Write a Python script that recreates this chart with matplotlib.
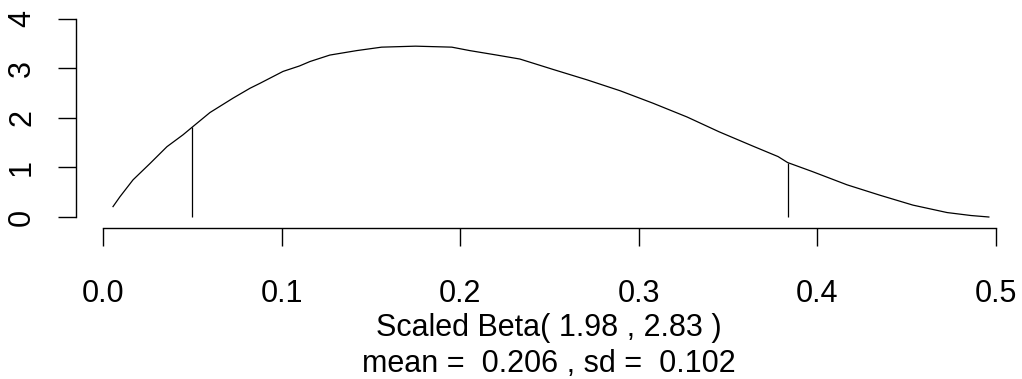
import matplotlib
matplotlib.use("Agg")
import matplotlib.pyplot as plt

plt.rcParams['font.family'] = ['Liberation Sans', 'DejaVu Sans']

# density curve of the scaled beta prior, read point by point
dens_x = [0.0056, 0.0095, 0.0168, 0.0263, 0.0358, 0.0448, 0.0498, 0.0599, 0.0728,
          0.0823, 0.0879, 0.1008, 0.1100, 0.1159, 0.1270, 0.1420, 0.1560, 0.1750,
          0.1953, 0.2054, 0.2205, 0.2334, 0.2520, 0.2710, 0.2895, 0.3078, 0.3270,
          0.3450, 0.3640, 0.3780, 0.3833, 0.3970, 0.4166, 0.4350, 0.4535, 0.4726,
          0.4860, 0.4960]
dens_y = [0.21, 0.41, 0.75, 1.08, 1.42, 1.66, 1.81, 2.11, 2.40,
          2.60, 2.70, 2.94, 3.05, 3.14, 3.27, 3.36, 3.43, 3.45,
          3.43, 3.36, 3.27, 3.19, 2.98, 2.77, 2.55, 2.30, 2.02,
          1.72, 1.43, 1.22, 1.10, 0.92, 0.65, 0.44, 0.24, 0.09,
          0.03, 0.00]

# lower / upper limits marked with vertical lines
lim_x = [0.0498, 0.3833]
lim_y = [1.81, 1.10]

x_ticks = [0.0, 0.1, 0.2, 0.3, 0.4, 0.5]
x_labels = ["0.0", "0.1", "0.2", "0.3", "0.4", "0.5"]
y_ticks = [0, 1, 2, 3, 4]

title1 = "Scaled Beta( 1.98 , 2.83 )"
title2 = "mean =  0.206 , sd =  0.102"

W, H = 1022, 379
fig = plt.figure(figsize=(W / 100, H / 100), dpi=100)
# plot region in pixels: left 76, right 1022, top 11, bottom 228
ax = fig.add_axes([76 / W, 1 - 228 / H, (1022 - 76) / W, (228 - 11) / H])

ax.plot(dens_x, dens_y, color="black", lw=0.9)
ax.vlines(lim_x, 0, lim_y, color="black", lw=0.9)

ax.set_xlim(-0.01512, 0.51456)
ax.set_ylim(-0.222, 4.16)

for s in ["top", "right"]:
    ax.spines[s].set_visible(False)
ax.spines["bottom"].set_bounds(0, 0.5)
ax.spines["left"].set_bounds(0, 4)
for s in ["bottom", "left"]:
    ax.spines[s].set_linewidth(1.0)

ax.set_xticks(x_ticks)
ax.set_xticklabels(x_labels)
ax.set_yticks(y_ticks)
ax.set_yticklabels([str(v) for v in y_ticks], rotation=90, va="center")
ax.tick_params(axis="x", length=13, width=1.0, pad=23.5, labelsize=22)
ax.tick_params(axis="y", length=13, width=1.0, pad=15, labelsize=22)

fig.text(549 / W, 1 - 336 / H, title1, ha="center", va="baseline", fontsize=22)
fig.text(549 / W, 1 - 372 / H, title2, ha="center", va="baseline", fontsize=22)

fig.savefig("out.png", dpi=100, facecolor="white")
